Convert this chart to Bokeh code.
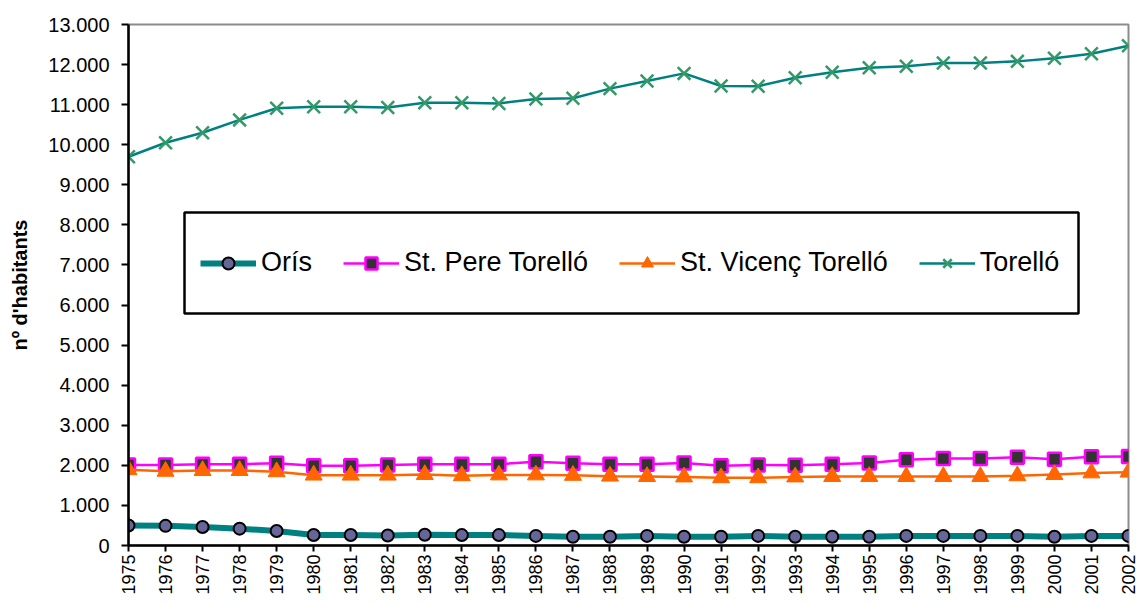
from bokeh.plotting import figure
from bokeh.models import FixedTicker, CustomJSTickFormatter, Range1d, Legend, LegendItem, BoxAnnotation
from bokeh.embed import file_html
from bokeh.resources import INLINE

years = list(range(1975, 2003))
oris = [500, 490, 460, 420, 360, 263, 263, 250, 270, 260, 260, 240, 220, 220,
        240, 220, 220, 240, 220, 220, 220, 240, 240, 240, 240, 220, 240, 240]
st_pere = [2010, 2010, 2030, 2030, 2050, 1990, 1990, 2010, 2030, 2030, 2030, 2090, 2050, 2030,
           2030, 2060, 1990, 2010, 2000, 2030, 2060, 2140, 2170, 2170, 2200, 2150, 2215, 2220]
st_vicenc = [1890, 1850, 1870, 1870, 1840, 1755, 1755, 1755, 1770, 1740, 1760, 1760, 1750, 1730,
             1720, 1710, 1690, 1690, 1710, 1720, 1720, 1720, 1720, 1720, 1740, 1770, 1810, 1830]
torello = [9700, 10050, 10300, 10620, 10910, 10950, 10950, 10930, 11045, 11045, 11030, 11143, 11160, 11400,
           11590, 11780, 11465, 11460, 11670, 11810, 11920, 11960, 12040, 12040, 12080, 12160, 12270, 12470]
y_ticks = list(range(0, 13001, 1000))
series_names = ["Orís", "St. Pere Torelló", "St. Vicenç Torelló", "Torelló"]
y_title = "nº d'habitants"

FONT = "Liberation Sans"

p = figure(width=1138, height=597, output_backend="svg", toolbar_location=None,
           x_range=Range1d(1975, 2002), y_range=Range1d(0, 13000),
           min_border_left=128, min_border_right=10, min_border_top=24, min_border_bottom=46)
p.background_fill_color = "white"
p.border_fill_color = "white"
p.outline_line_color = "#8c8c8c"
p.outline_line_width = 2
p.grid.visible = False

# legend frame (drawn in canvas pixels)
p.add_layout(BoxAnnotation(left=184, right=1078, top=212, bottom=313,
                           left_units="canvas", right_units="canvas",
                           top_units="canvas", bottom_units="canvas",
                           fill_color="white", fill_alpha=1,
                           line_color="black", line_alpha=1, line_width=2.5))

# Orís
r1l = p.line(years, oris, line_color="#008080", line_width=6)
r1m = p.scatter(years, oris, marker="circle", size=12, fill_color="#666699",
                line_color="black", line_width=2)
# St. Pere Torelló
r2l = p.line(years, st_pere, line_color="#FF00FF", line_width=2.5)
r2m = p.scatter(years, st_pere, marker="square", size=13, fill_color="#333333",
                line_color="#FF00FF", line_width=2.5)
# St. Vicenç Torelló
r3l = p.line(years, st_vicenc, line_color="#FF6600", line_width=2.5)
r3m = p.scatter(years, st_vicenc, marker="triangle", size=17, fill_color="#FF6600",
                line_color="#FF6600", line_width=1)
# Torelló
r4l = p.line(years, torello, line_color="#008080", line_width=2.5)
r4m = p.scatter(years, torello, marker="x", size=18, line_color="#339966", line_width=2.5)

# axes
p.xaxis.ticker = FixedTicker(ticks=years)
p.xaxis.major_label_orientation = 3.14159265 / 2
p.xaxis.major_label_text_font = FONT
p.xaxis.major_label_text_font_size = "18px"
p.xaxis.major_label_text_color = "black"
p.xaxis.major_label_standoff = 3
p.xaxis.minor_tick_line_color = None
p.xaxis.major_tick_out = 6
p.xaxis.major_tick_in = 0
p.xaxis.major_tick_line_width = 2
p.xaxis.major_tick_line_color = "black"
p.xaxis.axis_line_color = "black"
p.xaxis.axis_line_width = 2.5

p.yaxis.ticker = FixedTicker(ticks=y_ticks)
p.yaxis.formatter = CustomJSTickFormatter(
    code='return Math.round(tick).toString().replace(/\\B(?=(\\d{3})+(?!\\d))/g, ".");')
p.yaxis.major_label_text_font = FONT
p.yaxis.major_label_text_font_size = "20px"
p.yaxis.major_label_text_color = "black"
p.yaxis.major_label_standoff = 12
p.yaxis.minor_tick_line_color = None
p.yaxis.major_tick_out = 7
p.yaxis.major_tick_in = 0
p.yaxis.major_tick_line_width = 2
p.yaxis.major_tick_line_color = "black"
p.yaxis.axis_line_color = "black"
p.yaxis.axis_line_width = 2.5
p.yaxis.axis_label = y_title
p.yaxis.axis_label_text_font = FONT
p.yaxis.axis_label_text_font_size = "20px"
p.yaxis.axis_label_text_font_style = "bold"
p.yaxis.axis_label_text_color = "black"
p.yaxis.axis_label_standoff = 14

legend = Legend(items=[
    LegendItem(label=series_names[0], renderers=[r1l, r1m]),
    LegendItem(label=series_names[1], renderers=[r2l, r2m]),
    LegendItem(label=series_names[2], renderers=[r3l, r3m]),
    LegendItem(label=series_names[3], renderers=[r4l, r4m]),
], orientation="horizontal", location=(72, 267))
legend.label_text_font = FONT
legend.label_text_font_size = "27px"
legend.label_text_color = "black"
legend.glyph_width = 56
legend.glyph_height = 30
legend.label_height = 30
legend.label_standoff = 5
legend.spacing = 31
legend.padding = 0
legend.margin = 0
legend.border_line_color = None
legend.background_fill_alpha = 0
p.add_layout(legend, "center")

open("out.html", "w").write(file_html(p, INLINE))
